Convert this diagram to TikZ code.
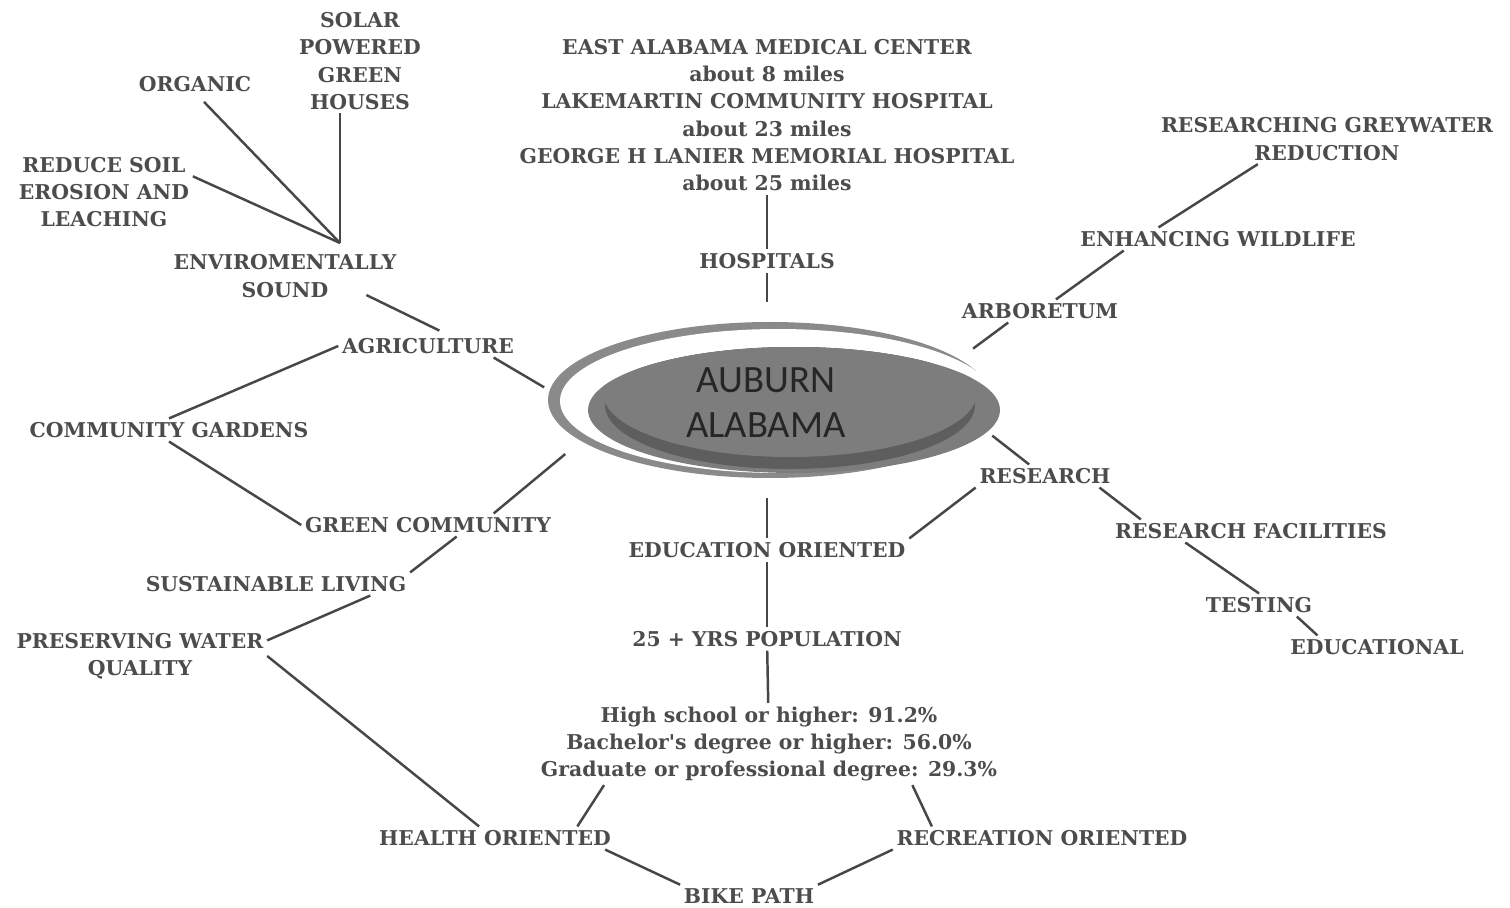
\documentclass[tikz,border=0pt]{standalone}
\usepackage{fontspec}
\setmainfont{DejaVu Serif}
\newfontfamily\hubfont{Carlito}
\usetikzlibrary{shapes.geometric}
\tikzset{
  lbl/.style={font=\fontsize{11.6}{15.5}\selectfont\bfseries,text=black!70,align=center,inner sep=2pt},
  lnk/.style={draw=black!72,line width=1.4pt},
  ringgap/.style={ellipse,minimum width=8.88cm,minimum height=3.12cm,inner sep=0pt,outer sep=0.4cm},
  hubell/.style={ellipse,fill=black!51,minimum width=8.24cm,minimum height=2.52cm,inner sep=0pt},
  hubtxt/.style={font=\hubfont\fontsize{22}{25.5}\selectfont,text=black!85,align=center,inner sep=0pt}
}

\begin{document}
\begin{tikzpicture}[x=0.02cm,y=-0.02cm]
  \useasboundingbox (0,0) rectangle (1510,908);
  \fill[white] (0,0) rectangle (1510,908);

  % centre
  \fill[black!46] (770,400) ellipse [x radius=222,y radius=78];
  \fill[white] (778,401) ellipse [x radius=218,y radius=72];
  \node[hubell] (auburn) at (794,410) {};
  \begin{scope}
    \clip (794,410) ellipse [x radius=206,y radius=63];
    \fill[black!63] (790,405) ellipse [x radius=185,y radius=64];
    \fill[black!51] (790,393) ellipse [x radius=187,y radius=64];
  \end{scope}
  \node[hubtxt] (hubname) at (766,403) {AUBURN\\ALABAMA};
  \node[ringgap] (ring) at (767,400) {};

  \node[lbl] (hoslist) at (767,115) {EAST ALABAMA MEDICAL CENTER\\about 8 miles\\LAKEMARTIN COMMUNITY HOSPITAL\\about 23 miles\\GEORGE H LANIER MEMORIAL HOSPITAL\\about 25 miles};
  \node[lbl] (hosp) at (767,261) {HOSPITALS};
  \node[lbl] (solar) at (360,61) {SOLAR\\POWERED\\GREEN\\HOUSES};
  \node[lbl] (organic) at (195,84) {ORGANIC};
  \node[lbl] (soil) at (104,192) {REDUCE SOIL\\EROSION AND\\LEACHING};
  \node[lbl] (envsound) at (285,276) {ENVIROMENTALLY\\SOUND};
  \coordinate (hub) at (340,243);
  \node[lbl] (agri) at (428,346) {AGRICULTURE};
  \node[lbl] (cgarden) at (169,430) {COMMUNITY GARDENS};
  \node[lbl] (greencom) at (428,525) {GREEN COMMUNITY};
  \node[lbl] (sustain) at (276,584) {SUSTAINABLE LIVING};
  \node[lbl] (water) at (140,656) {PRESERVING WATER\\QUALITY};
  \node[lbl] (health) at (495,838) {HEALTH ORIENTED};
  \node[lbl] (bike) at (749,896) {BIKE PATH};
  \node[lbl] (recre) at (1042,838) {RECREATION ORIENTED};
  \node[lbl] (stats) at (769,744) {High school or higher: 91.2\%\\Bachelor\textquotesingle s degree or higher: 56.0\%\\Graduate or professional degree: 29.3\%};
  \node[lbl] (pop) at (767,639) {25 + YRS POPULATION};
  \node[lbl] (edu) at (767,550) {EDUCATION ORIENTED};
  \node[lbl] (research) at (1045,476) {RESEARCH};
  \node[lbl] (facil) at (1251,531) {RESEARCH FACILITIES};
  \node[lbl] (testing) at (1259,605) {TESTING};
  \node[lbl] (educ) at (1377,647) {EDUCATIONAL};
  \node[lbl] (arbor) at (1040,311) {ARBORETUM};
  \node[lbl] (wildlife) at (1218,239) {ENHANCING WILDLIFE};
  \node[lbl] (grey) at (1327,139) {RESEARCHING GREYWATER\\REDUCTION};

  \draw[lnk] (hoslist) -- (hosp);
  \draw[lnk] (hosp) -- (hosp |- ring.north);
  \draw[lnk] (ring.south) -- (edu);
  \draw[lnk] (edu) -- (pop);
  \draw[lnk] (pop) -- (stats);
  \draw[lnk] (stats.194) -- (health.8);
  \draw[lnk] (stats.-16) -- (recre.174);
  \draw[lnk] (health.-6) -- (bike.north west);
  \draw[lnk] (bike.north east) -- (recre.south west);
  \draw[lnk] (water.east) -- (health.144);
  \draw[lnk] (sustain.-7) -- (water.7);
  \draw[lnk] (greencom.-22) -- (sustain.north east);
  \draw[lnk] (greencom.10) -- (ring.195);
  \draw[lnk] (cgarden.south) -- (greencom.west);
  \draw[lnk] (agri.west) -- (cgarden.north);
  \draw[lnk,shorten >=-9pt] (agri.-10) -- (ring.175);
  \draw[lnk,shorten <=-8pt,shorten >=5pt] (envsound.-15) -- (agri.31);
  \draw[lnk] (hub) -- (hub |- solar.south);
  \draw[lnk,shorten >=5pt] (hub) -- (organic.-76);
  \draw[lnk] (hub) -- (soil.10);
  \draw[lnk] (ring.14) -- (arbor.200);
  \draw[lnk] (arbor.36) -- (wildlife.187);
  \draw[lnk] (wildlife.169) -- (grey.200);
  \draw[lnk] (ring.-9) -- (research.144);
  \draw[lnk] (research.south west) -- (edu.north east);
  \draw[lnk] (research.-12) -- (facil.174);
  \draw[lnk] (facil.190) -- (testing.north);
  \draw[lnk] (testing.-17) -- (educ.169);
\end{tikzpicture}
\end{document}
